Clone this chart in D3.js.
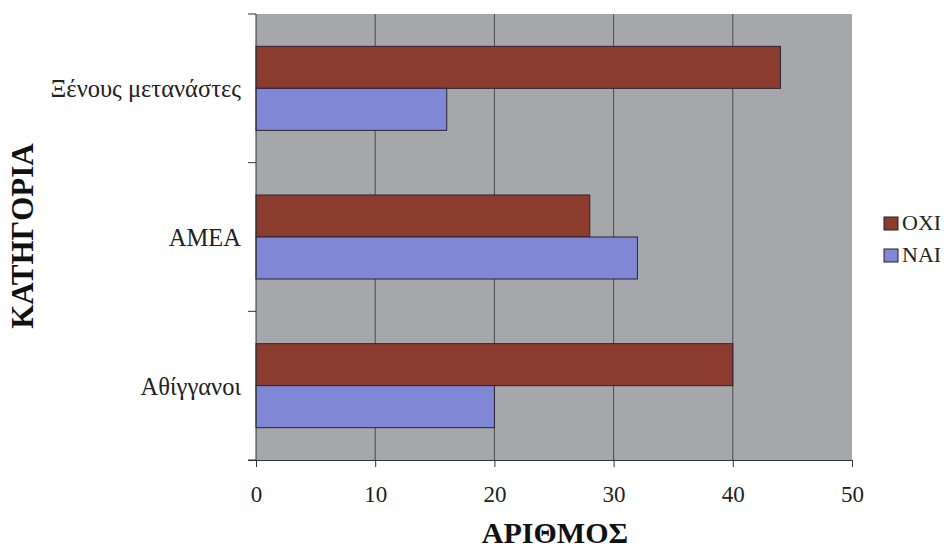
<!DOCTYPE html>
<html><head><meta charset="utf-8">
<script src="https://cdn.jsdelivr.net/npm/d3@7"></script>
<style>body{margin:0;background:#fff}svg{display:block}</style>
</head><body><svg id="c" width="947" height="553"></svg>
<script>
const categories = ["Ξένους μετανάστες", "ΑΜΕΑ", "Αθίγγανοι"];
const seriesNames = ["ΟΧΙ", "ΝΑΙ"];
const oxiValues = [44, 28, 40];
const naiValues = [16, 32, 20];
const xTicks = [0, 10, 20, 30, 40, 50];
const colors = ["#8c3b2f", "#8088d6"];

const svg = d3.select("#c");
const L = 256, R = 852, T = 14, B = 460;
const font = "'Liberation Serif', 'Times New Roman', serif";

const x = d3.scaleLinear().domain([0, 50]).range([L, R]);
const y = d3.scaleBand().domain(categories).range([T, B]).paddingInner(0).paddingOuter(0);
const inner = d3.scaleBand().domain(seriesNames).range([0, y.bandwidth()]).paddingOuter(0.77).paddingInner(0);

svg.append("rect").attr("x", L).attr("y", T).attr("width", R - L).attr("height", B - T).attr("fill", "#a5a7aa");

// gridlines
svg.append("g").selectAll("line").data(xTicks.slice(1, -1)).join("line")
  .attr("x1", d => x(d)).attr("x2", d => x(d)).attr("y1", T).attr("y2", B)
  .attr("stroke", "#4a4a4a").attr("stroke-width", 1);

const data = categories.map((c, i) => ({c, vals: [oxiValues[i], naiValues[i]]}));
const g = svg.append("g");
data.forEach(d => {
  d.vals.forEach((v, j) => {
    g.append("rect")
      .attr("x", x(0)).attr("y", y(d.c) + inner(seriesNames[j]))
      .attr("width", x(v) - x(0)).attr("height", inner.bandwidth())
      .attr("fill", colors[j]).attr("stroke", "#2a2230").attr("stroke-width", 1);
  });
});

// x axis
const xa = svg.append("g").attr("transform", `translate(0,${B})`)
  .call(d3.axisBottom(x).tickValues(xTicks).tickSize(7).tickPadding(0));
xa.select(".domain").attr("stroke", "#333").attr("d", `M${L-8},0.5H${R}`);
xa.selectAll(".tick line").attr("stroke", "#333");
xa.selectAll("text").attr("font-family", font).attr("font-size", 23).attr("fill", "#222")
  .attr("dy", null).attr("y", 42);

// y axis: boundary ticks
svg.append("line").attr("x1", L).attr("x2", L).attr("y1", T).attr("y2", B).attr("stroke", "#333");
const bounds = [T, ...categories.map(c => y(c) + y.bandwidth())];
svg.append("g").selectAll("line").data(bounds).join("line")
  .attr("x1", L - 8).attr("x2", L).attr("y1", d => d).attr("y2", d => d).attr("stroke", "#333");
svg.append("g").selectAll("text").data(categories).join("text")
  .attr("x", 241).attr("y", d => y(d) + y.bandwidth() / 2 + 9)
  .attr("text-anchor", "end").attr("font-family", font).attr("font-size", 24.5).attr("fill", "#222")
  .text(d => d);

// axis titles
svg.append("text").attr("x", 555).attr("y", 543).attr("text-anchor", "middle")
  .attr("font-family", font).attr("font-size", 30).attr("font-weight", "bold").attr("fill", "#111")
  .text("ΑΡΙΘΜΟΣ");
svg.append("text").attr("transform", "translate(33,236) rotate(-90)").attr("text-anchor", "middle")
  .attr("font-family", font).attr("font-size", 31).attr("font-weight", "bold").attr("fill", "#111")
  .text("ΚΑΤΗΓΟΡΙΑ");

// legend
const lg = svg.append("g");
seriesNames.forEach((s, i) => {
  const cy = 223 + i * 32;
  lg.append("rect").attr("x", 884).attr("y", cy - 6).attr("width", 14).attr("height", 13)
    .attr("fill", colors[i]).attr("stroke", "#222");
  lg.append("text").attr("x", 902).attr("y", cy + 7).attr("font-family", font).attr("font-size", 22)
    .attr("fill", "#222").text(s);
});
</script></body></html>
